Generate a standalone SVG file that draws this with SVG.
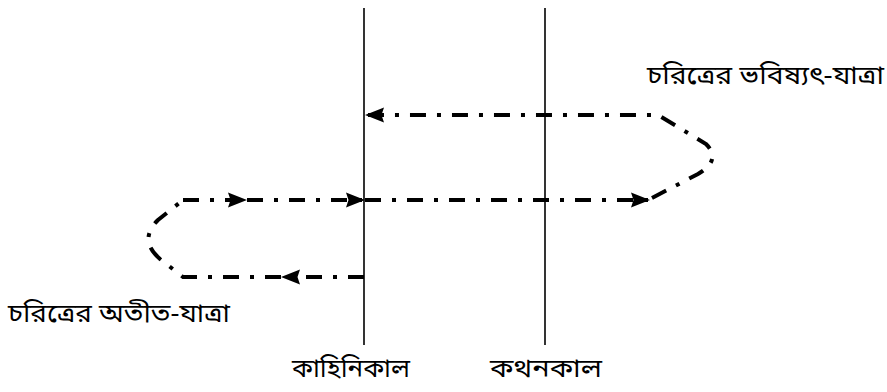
<svg xmlns="http://www.w3.org/2000/svg" width="887" height="392" viewBox="0 0 887 392">
<style>
.axis{stroke:#000;stroke-width:1.6;fill:none}
.flow{stroke:#000;stroke-width:4;fill:none;stroke-dasharray:16 11 4 11}
.lbl{font-family:"Noto Sans Bengali","Lohit Bengali","Noto Sans","DejaVu Sans",sans-serif;font-size:26px;fill:#000}
</style>
<defs>
<marker id="ah" markerUnits="userSpaceOnUse" markerWidth="24" markerHeight="20" refX="19" refY="10" orient="auto">
<path d="M0,2.5 L19,10 L0,17.5 L2.5,10 z" fill="#000"/>
</marker>
</defs>
<g id="kahinikal">
<line class="axis" x1="364" y1="8" x2="364" y2="345"/>
<text class="lbl" x="292" y="377" textLength="118" lengthAdjust="spacingAndGlyphs">কাহিনিকাল</text>
</g>
<g id="kathankal">
<line class="axis" x1="545" y1="8" x2="545" y2="345"/>
<text class="lbl" x="490" y="377" textLength="112" lengthAdjust="spacingAndGlyphs">কথনকাল</text>
</g>
<g id="future-label">
<text class="lbl" x="647" y="84" textLength="237" lengthAdjust="spacingAndGlyphs">চরিত্রের ভবিষ্যৎ-যাত্রা</text>
</g>
<g id="past-label">
<text class="lbl" x="8" y="322" textLength="222" lengthAdjust="spacingAndGlyphs">চরিত্রের অতীত-যাত্রা</text>
</g>
<g id="connectors">
<path class="flow" d="M183,200 H247" marker-end="url(#ah)"/>
<path class="flow" d="M247,200 H365" marker-end="url(#ah)"/>
<path class="flow" d="M365,200 H650" marker-end="url(#ah)"/>
<path class="flow" d="M652,198 L698,174 Q722,160 706,144 L658,115 H365" marker-end="url(#ah)"/>
<path class="flow" d="M364,277 H281" marker-end="url(#ah)"/>
<path class="flow" d="M281,277 H183 L160,259 Q138,240 158,220 L183,200"/>
</g>
</svg>
